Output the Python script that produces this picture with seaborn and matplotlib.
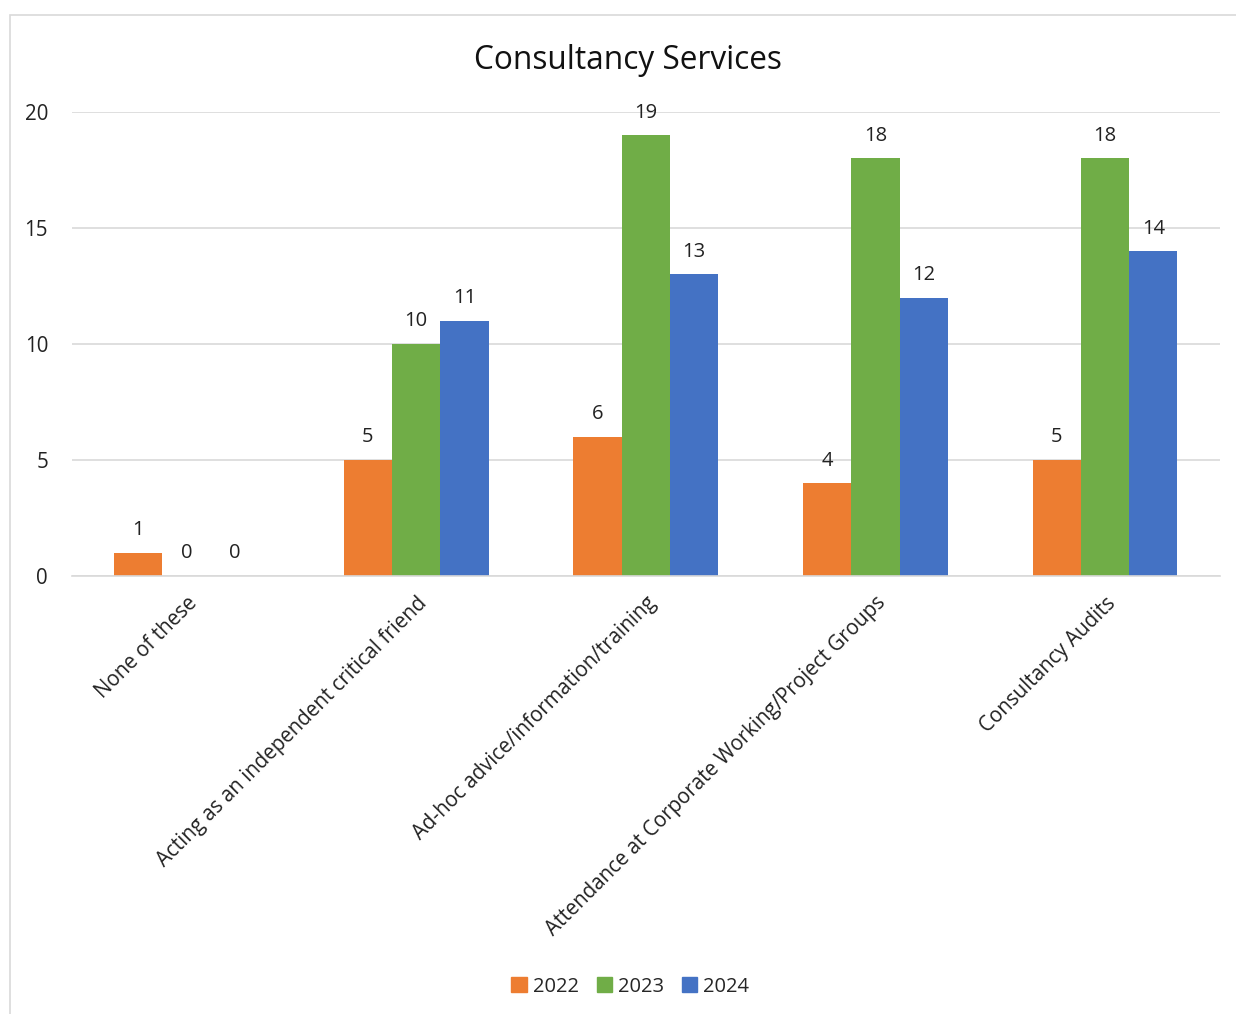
import matplotlib
matplotlib.use("Agg")
import matplotlib.pyplot as plt
import matplotlib.patches as mpatches
import pandas as pd
import seaborn as sns

categories = [
    "None of these",
    "Acting as an independent critical friend",
    "Ad-hoc advice/information/training",
    "Attendance at Corporate Working/Project Groups",
    "Consultancy Audits",
]
years = ["2022", "2023", "2024"]
values_2022 = [1, 5, 6, 4, 5]
values_2023 = [0, 10, 19, 18, 18]
values_2024 = [0, 11, 13, 12, 14]
colors = ["#ED7D31", "#70AD47", "#4472C4"]

df = pd.DataFrame({
    "category": categories * 3,
    "year": [y for y in years for _ in categories],
    "value": values_2022 + values_2023 + values_2024,
})

sns.set_theme(style="white")
plt.rcParams["font.family"] = ["Open Sans", "DejaVu Sans"]

fig = plt.figure(figsize=(12.36, 10.14), dpi=100)
ax = fig.add_axes([0.058, 0.432, 0.929, 0.4575])

sns.barplot(data=df, x="category", y="value", hue="year", order=categories,
            hue_order=years, palette=colors, width=0.63, saturation=1,
            linewidth=0, legend=False, ax=ax)

for cont in ax.containers:
    ax.bar_label(cont, fmt="%d", padding=9, fontsize=14.5, color="#222222")

ax.set_ylim(0, 20)
ax.set_yticks([0, 5, 10, 15, 20])
ax.yaxis.grid(True, color="#d9d9d9", linewidth=1.2)
ax.set_axisbelow(True)
for side in ["top", "right", "left"]:
    ax.spines[side].set_visible(False)
ax.spines["bottom"].set_color("#d9d9d9")
ax.spines["bottom"].set_linewidth(1.2)
ax.tick_params(axis="both", length=0, labelsize=14.8, colors="#222222")
ax.tick_params(axis="y", pad=17)
ax.tick_params(axis="x", pad=12)
ax.set_xlabel("")
ax.set_ylabel("")
plt.setp(ax.get_xticklabels(), rotation=45, ha="right", rotation_mode="anchor")

fig.text(0.508, 0.94, "Consultancy Services", ha="center", va="center",
         fontsize=22.8, color="#111111")

handles = [mpatches.Patch(color=c, label=y) for c, y in zip(colors, years)]
fig.legend(handles=handles, loc="center", bbox_to_anchor=(0.51, 0.027), ncol=3,
           frameon=False, fontsize=14.5, handlelength=0.75, handleheight=0.75,
           handletextpad=0.3, columnspacing=0.9)

# chart frame
fig.add_artist(mpatches.Rectangle((0.008, -0.01), 1.1, 0.995, transform=fig.transFigure,
                                  fill=False, edgecolor="#d9d9d9", linewidth=1.2))

fig.savefig("out.png", dpi=100)
